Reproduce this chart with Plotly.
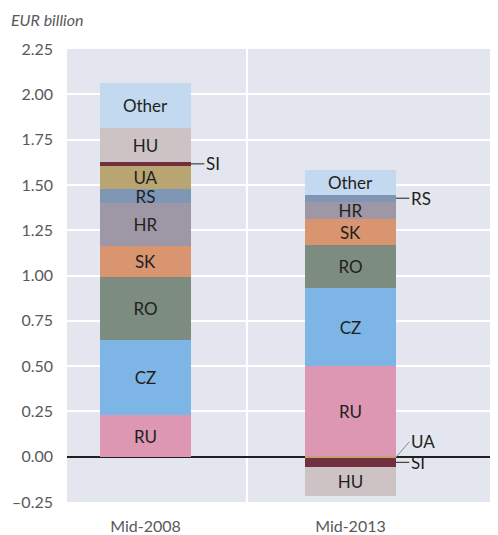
import plotly.graph_objects as go

periods = ["Mid-2008", "Mid-2013"]
countries = ["RU", "CZ", "RO", "SK", "HR", "RS", "UA", "SI", "HU", "Other"]
values_2008 = [0.232, 0.413, 0.344, 0.175, 0.235, 0.079, 0.127, 0.022, 0.188, 0.248]
values_2013 = [0.502, 0.430, 0.237, 0.144, 0.095, 0.037, -0.006, -0.050, -0.160, 0.138]
colors = ["#de97b3", "#7db6e6", "#7d8c80", "#d99470", "#9e97a5",
          "#7f97b5", "#b8a571", "#722f3f", "#cdc3c5", "#c2d9ef"]
# labels drawn inside segments (empty where the segment is labelled outside)
inside_2008 = ["RU", "CZ", "RO", "SK", "HR", "RS", "UA", "", "HU", "Other"]
inside_2013 = ["RU", "CZ", "RO", "SK", "HR", "", "", "", "HU", "Other"]
y_ticks = [-0.25, 0, 0.25, 0.5, 0.75, 1.0, 1.25, 1.5, 1.75, 2.0, 2.25]
y_ticktext = ["–0.25", "0.00", "0.25", "0.50", "0.75", "1.00", "1.25", "1.50", "1.75", "2.00", "2.25"]

FONT = "Lato, 'Open Sans', sans-serif"
TXT = "#231f20"
GREY = "#58595b"
xpos = [0, 1]
bw = 0.444

fig = go.Figure()
for i, c in enumerate(countries):
    fig.add_trace(go.Bar(
        x=xpos, y=[values_2008[i], values_2013[i]], name=c,
        marker=dict(color=colors[i], line=dict(width=0)),
        width=bw, text=[inside_2008[i], inside_2013[i]],
        textposition="inside", insidetextanchor="middle", textangle=0,
        constraintext="none",
        textfont=dict(family=FONT, size=17, color=TXT),
        hoverinfo="skip", showlegend=False,
    ))

# cumulative positions for outside leader labels
def seg_mid(vals, idx):
    pos = 0.0
    neg = 0.0
    for k, v in enumerate(vals):
        if v >= 0:
            lo, hi = pos, pos + v
            pos = hi
        else:
            hi, lo = neg, neg + v
            neg = lo
        if k == idx:
            return (lo + hi) / 2
    return 0

right_edge = [x + bw / 2 for x in xpos]
outside = [
    (0, "SI", values_2008, 0.0),
    (1, "RS", values_2013, 0.0),
    (1, "UA", values_2013, 0.085),
    (1, "SI", values_2013, 0.0),
]
for b, lab, vals, dy in outside:
    ym = seg_mid(vals, countries.index(lab))
    x0 = right_edge[b]
    x1 = x0 + 0.065
    y1 = ym + dy
    fig.add_shape(type="line", x0=x0, x1=x1, y0=ym, y1=y1,
                  line=dict(color="#231f20" if dy == 0 else "#8a8a8a", width=1))
    fig.add_annotation(x=x1, y=y1, text=lab, showarrow=False, xanchor="left",
                       xshift=0, font=dict(family=FONT, size=17, color=TXT))

# category separator
fig.add_shape(type="line", x0=0.495, x1=0.495, y0=0, y1=1, yref="paper",
              line=dict(color="white", width=2), layer="below")

fig.add_annotation(x=0, y=1, xref="paper", yref="paper", xshift=-58, yshift=18,
                   text="<i>EUR billion</i>", showarrow=False, xanchor="left",
                   yanchor="bottom", font=dict(family=FONT, size=16, color=GREY))

fig.update_layout(
    width=490, height=527,
    margin=dict(l=59, r=0, t=41, b=33),
    barmode="relative", bargap=0,
    plot_bgcolor="#e3e6ee", paper_bgcolor="white",
    uniformtext=dict(minsize=17, mode="show"),
    xaxis=dict(range=[-0.383, 1.72], tickvals=xpos, ticktext=periods,
               showgrid=False, zeroline=False, ticks="", ticklabelstandoff=13,
               tickfont=dict(family=FONT, size=16, color=GREY)),
    yaxis=dict(range=[-0.25, 2.25], tickvals=y_ticks, ticktext=y_ticktext,
               showgrid=True, gridcolor="white", gridwidth=2,
               zeroline=True, zerolinecolor="#231f20", zerolinewidth=2,
               ticks="", ticklabelstandoff=13,
               tickfont=dict(family=FONT, size=16, color=GREY)),
)

fig.write_html("out.html")
